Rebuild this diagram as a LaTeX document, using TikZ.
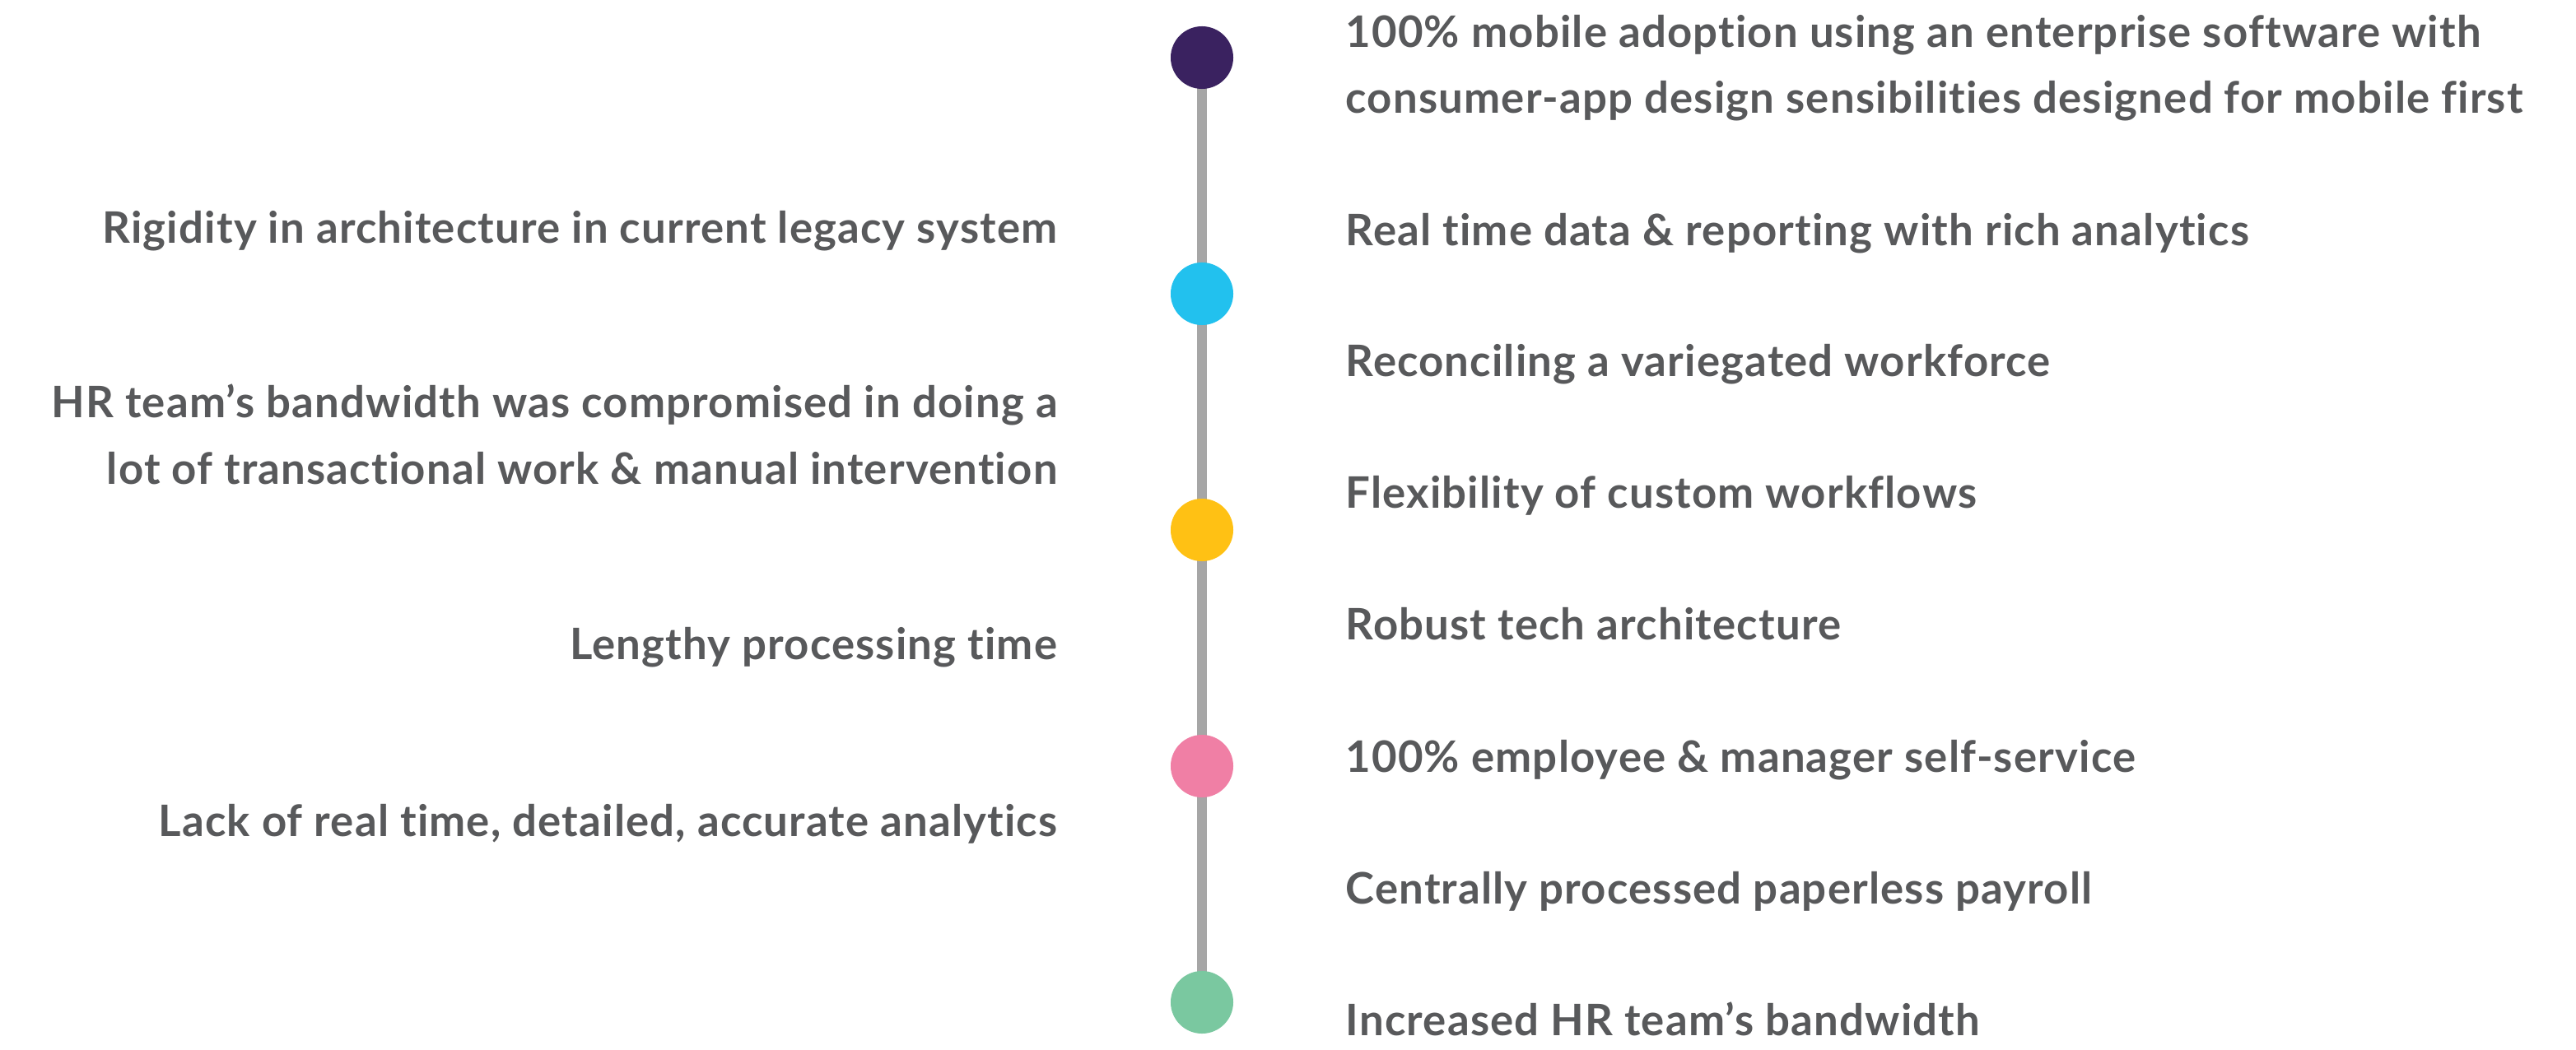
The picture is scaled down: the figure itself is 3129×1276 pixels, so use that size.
\documentclass[tikz,border=0pt]{standalone}
\usepackage{fontspec}
\setmainfont{Lato}[Ligatures=NoCommon,LetterSpace=2.2]
\definecolor{txt}{HTML}{58595B}
\definecolor{rail}{HTML}{A6A6A6}
\definecolor{cA}{HTML}{3A2260}
\definecolor{cB}{HTML}{22C1EE}
\definecolor{cC}{HTML}{FFC114}
\definecolor{cD}{HTML}{F07FA5}
\definecolor{cE}{HTML}{7AC8A0}
\begin{document}
\begin{tikzpicture}[x=0.01cm,y=-0.01cm,
  lbl/.style={text=txt,inner sep=0pt,font=\fontsize{15pt}{22.76pt}\selectfont\bfseries},
  lft/.style={lbl,anchor=base east,align=right},
  rgt/.style={lbl,anchor=base west,align=left},
  dot/.style={circle,minimum size=0.76cm,inner sep=0pt,fill=#1},
  railline/.style={draw=rail,line width=0.12cm}]
\useasboundingbox (0,0) rectangle (3129,1276);
\fill[white] (0,0) rectangle (3129,1276);
\coordinate (top) at (1460,70);
\coordinate (bot) at (1460,1218);
\path[railline] (top) -- (bot);
\node[dot=cA] (d1) at (1460,70) {};
\node[dot=cB] (d2) at (1460,357) {};
\node[dot=cC] (d3) at (1460,644) {};
\node[dot=cD] (d4) at (1460,931) {};
\node[dot=cE] (d5) at (1460,1218) {};
% left
\node[lft] (l1) at (1285,295) {Rigidity in architecture in current legacy system};
\node[lft] (l2) at (1285,588) {HR team’s bandwidth was compromised in doing a\\lot of transactional work \& manual intervention};
\node[lft] (l3) at (1285,801) {Lengthy processing time};
\node[lft] (l4) at (1285,1016) {Lack of real time, detailed, accurate analytics};
% right
\node[rgt] (r1) at (1634,138) {100\% mobile adoption using an enterprise software with\\consumer-app design sensibilities designed for mobile first};
\node[rgt] (r2) at (1634,298) {Real time data \& reporting with rich analytics};
\node[rgt] (r3) at (1634,458) {Reconciling a variegated workforce};
\node[rgt] (r4) at (1634,617) {Flexibility of custom workflows};
\node[rgt] (r5) at (1634,777) {Robust tech architecture};
\node[rgt] (r6) at (1634,938) {100\% employee \& manager self-service};
\node[rgt] (r7) at (1634,1098) {Centrally processed paperless payroll};
\node[rgt] (r8) at (1634,1258) {Increased HR team’s bandwidth};
\end{tikzpicture}
\end{document}
